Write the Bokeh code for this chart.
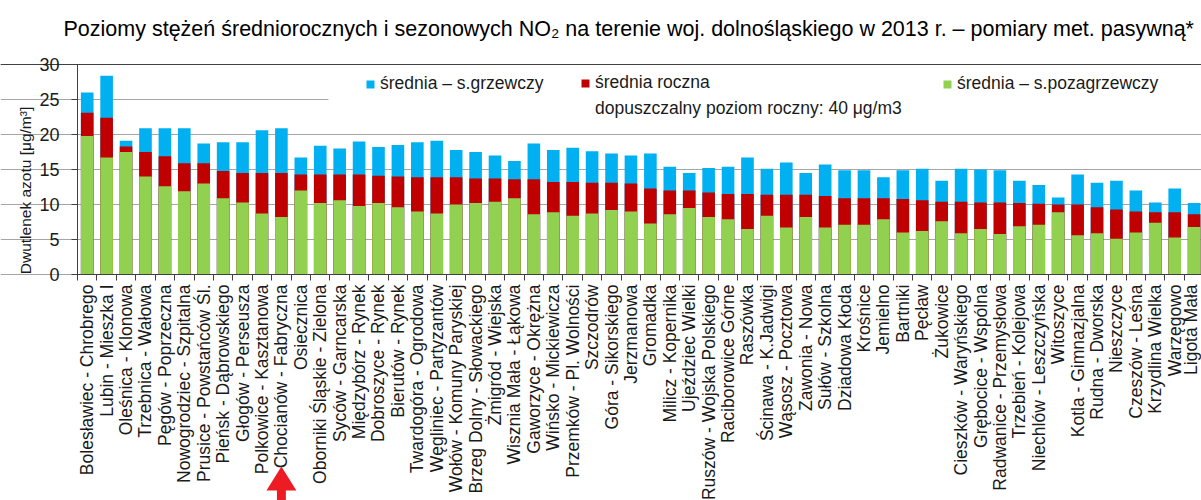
import math
from bokeh.plotting import figure
from bokeh.models import (Range1d, FixedTicker, Legend, LegendItem, Grid, Label,
                          BoxAnnotation, PolyAnnotation, ColumnDataSource)
from bokeh.embed import file_html
from bokeh.resources import INLINE

# ---------------- data ----------------
stations = [
    "Bolesławiec - Chrobrego", "Lubin - Mieszka I", "Oleśnica - Klonowa", "Trzebnica - Wałowa",
    "Pęgów - Poprzeczna", "Nowogrodziec - Szpitalna", "Prusice - Powstańców Śl.", "Pieńsk - Dąbrowskiego",
    "Głogów - Perseusza", "Polkowice - Kasztanowa", "Chocianów - Fabryczna", "Osiecznica",
    "Oborniki Śląskie - Zielona", "Syców - Garncarska", "Międzybórz - Rynek", "Dobroszyce - Rynek",
    "Bierutów - Rynek", "Twardogóra - Ogrodowa", "Węgliniec - Partyzantów", "Wołów - Komuny Paryskiej",
    "Brzeg Dolny - Słowackiego", "Żmigród - Wiejska", "Wisznia Mała - Łąkowa", "Gaworzyce - Okrężna",
    "Wińsko - Mickiewicza", "Przemków - Pl. Wolności", "Szczodrów", "Góra - Sikorskiego",
    "Jerzmanowa", "Gromadka", "Milicz - Kopernika", "Ujeździec Wielki",
    "Ruszów - Wojska Polskiego", "Raciborowice Górne", "Raszówka", "Ścinawa - K.Jadwigi",
    "Wąsosz - Pocztowa", "Zawonia - Nowa", "Sułów - Szkolna", "Dziadowa Kłoda",
    "Krośnice", "Jemielno", "Bartniki", "Pęcław",
    "Żukowice", "Cieszków - Waryńskiego", "Grębocice - Wspólna", "Radwanice - Przemysłowa",
    "Trzebień - Kolejowa", "Niechlów - Leszczyńska", "Witoszyce", "Kotla - Gimnazjalna",
    "Rudna - Dworska", "Nieszczyce", "Czeszów - Leśna", "Krzydlina Wielka",
    "Warzęgowo", "Ligota Mała",
]
heating = [
    26.0, 28.4, 19.1, 20.9, 20.9, 20.9, 18.7, 18.9, 18.9, 20.6, 20.9, 16.7,
    18.4, 18.0, 19.0, 18.2, 18.5, 18.9, 19.1, 17.8, 17.5, 17.0, 16.2, 18.7,
    17.8, 18.1, 17.6, 17.3, 17.0, 17.3, 15.4, 14.5, 15.2, 15.4, 16.7, 15.1,
    16.0, 14.5, 15.7, 14.9, 14.9, 13.9, 14.9, 15.1, 13.4, 15.1, 15.0, 14.9,
    13.4, 12.8, 11.0, 14.3, 13.1, 13.4, 12.0, 10.3, 12.3, 10.2,
]
annual = [
    23.1, 22.4, 18.3, 17.5, 16.9, 15.9, 15.9, 14.8, 14.5, 14.5, 14.5, 14.3,
    14.3, 14.3, 14.3, 14.1, 14.0, 13.9, 13.9, 13.9, 13.7, 13.7, 13.6, 13.6,
    13.2, 13.2, 13.1, 13.1, 13.0, 12.3, 12.0, 12.0, 11.7, 11.5, 11.5, 11.4,
    11.4, 11.4, 11.2, 10.9, 10.9, 10.9, 10.8, 10.6, 10.4, 10.4, 10.3, 10.3,
    10.2, 10.1, 10.0, 10.0, 9.6, 9.3, 9.0, 8.9, 8.9, 8.6,
]
non_heating = [
    19.8, 16.7, 17.5, 14.0, 12.6, 11.9, 13.0, 10.9, 10.3, 8.7, 8.2, 12.0,
    10.2, 10.6, 9.8, 10.2, 9.6, 9.0, 8.7, 10.0, 10.2, 10.4, 10.9, 8.6,
    8.9, 8.4, 8.7, 9.2, 9.0, 7.3, 8.6, 9.5, 8.2, 7.9, 6.5, 8.4,
    6.7, 8.2, 6.7, 7.1, 7.1, 7.9, 6.0, 6.2, 7.6, 5.9, 6.5, 5.8,
    6.9, 7.1, 8.9, 5.6, 5.9, 5.1, 6.0, 7.4, 5.3, 6.8,
]
limit_annual = 40
highlighted = "Chocianów - Fabryczna"
y_ticks = [0, 5, 10, 15, 20, 25, 30]

title_text = ("Poziomy stężeń średniorocznych i sezonowych NO₂ na terenie woj. dolnośląskiego "
              "w 2013 r. – pomiary met. pasywną*")
y_label = "Dwutlenek azotu [μg/m³]"
lab_heating = "średnia – s.grzewczy"
lab_annual = "średnia roczna"
lab_limit = f"dopuszczalny poziom roczny: {limit_annual} μg/m3"
lab_non = "średnia – s.pozagrzewczy"

# ---------------- styling ----------------
FONT = "Liberation Sans"
C_BLUE = "#00B0F0"
C_RED = "#C00000"
C_GREEN = "#92D050"
C_AXIS = "#404040"
C_GRID = "#A6A6A6"
C_TEXT = "#1a1a1a"
C_ARROW = "#ED1C24"

n = len(stations)
y_max = y_ticks[-1]
# The frame covers the whole canvas below the title, so that the axes (fixed at x=0.5 / y=0),
# their labels and the arrow all lie inside it.
x_start, x_end = -3.465, n + 0.38
y_bottom, y_top = -32.29, y_max + 1.43
x_first = 0.5          # left edge of the category area (where the y axis sits)

positions = list(range(1, n + 1))
src = ColumnDataSource(dict(x=positions, heating=heating, annual=annual,
                            non_heating=non_heating, name=stations))

p = figure(width=1201, height=500, output_backend="svg", toolbar_location=None,
           x_range=Range1d(x_start, x_end), y_range=Range1d(y_bottom, y_top),
           min_border_left=0, min_border_right=0, min_border_top=54, min_border_bottom=0)

bw = 0.65
r_heat = p.vbar(x="x", top="heating", width=bw, source=src, fill_color=C_BLUE, line_color=None)
r_ann = p.vbar(x="x", top="annual", width=bw, source=src, fill_color=C_RED, line_color=None)
r_non = p.vbar(x="x", top="non_heating", width=bw, source=src, fill_color=C_GREEN, line_color=None)
r_lim = p.line(x=positions, y=[limit_annual] * n, line_color="white", line_alpha=0)

# x axis drawn at y = 0: labels at category centres, tick marks at category boundaries
p.xaxis.fixed_location = 0
p.xaxis.bounds = (x_first, n + 0.5)
p.xaxis.ticker = FixedTicker(ticks=positions, minor_ticks=[x - 0.5 for x in positions] + [n + 0.5])
p.xaxis.major_label_overrides = {x: s for x, s in zip(positions, stations)}
p.xaxis.major_label_orientation = math.pi / 2
p.xaxis.major_tick_line_color = None
p.xaxis.major_tick_out = 0
p.xaxis.major_tick_in = 0
p.xaxis.minor_tick_line_color = C_AXIS
p.xaxis.minor_tick_out = 6
p.xaxis.minor_tick_in = 0
p.xaxis.major_label_standoff = 4
p.xaxis.axis_line_color = C_AXIS
p.xaxis.major_label_text_font = FONT
p.xaxis.major_label_text_font_size = "17.5px"
p.xaxis.major_label_text_color = C_TEXT

# y axis drawn at x = 0.5, limited to 0..30
p.yaxis.fixed_location = x_first
p.yaxis.ticker = FixedTicker(ticks=y_ticks)
p.yaxis.bounds = (0, y_max)
p.yaxis.major_tick_out = 6
p.yaxis.major_tick_in = 0
p.yaxis.minor_tick_line_color = None
p.yaxis.major_label_standoff = 12
p.yaxis.axis_line_color = C_AXIS
p.yaxis.major_tick_line_color = C_AXIS
p.yaxis.major_label_text_font = FONT
p.yaxis.major_label_text_font_size = "18px"
p.yaxis.major_label_text_color = C_TEXT

p.xgrid.visible = False
p.ygrid.grid_line_color = C_GRID
p.ygrid.bounds = (x_first, x_end)
p.outline_line_color = None

# y axis title, placed left of the tick labels
p.add_layout(Label(x=-2.18, y=12, text=y_label, angle=math.pi / 2, text_align="center",
                   text_baseline="middle", text_font=FONT, text_font_size="15.5px",
                   text_color=C_TEXT))

# legend background box (covers the upper gridline behind the legend)
p.add_layout(BoxAnnotation(left=13.42, bottom=21, top=y_max - 0.15, fill_color="white",
                           fill_alpha=1, line_color=None))
# darker top border line at 30
p.add_layout(Grid(dimension=1, ticker=FixedTicker(ticks=[y_max]), bounds=(x_first, x_end),
                  grid_line_color=C_AXIS))

leg_style = dict(label_text_font=FONT, label_text_font_size="17.5px", label_text_color=C_TEXT,
                 glyph_width=10, glyph_height=10, label_standoff=5, padding=0, margin=0,
                 spacing=5, border_line_alpha=0, background_fill_alpha=0, label_height=20)
p.add_layout(Legend(items=[LegendItem(label=lab_heating, renderers=[r_heat])],
                    location=(365, 406), **leg_style), "center")
p.add_layout(Legend(items=[LegendItem(label=lab_annual, renderers=[r_ann]),
                           LegendItem(label=lab_limit, renderers=[r_lim])],
                    location=(580, 381), **leg_style), "center")
p.add_layout(Legend(items=[LegendItem(label=lab_non, renderers=[r_non])],
                    location=(942, 406), **leg_style), "center")

# red arrow pointing up at the highlighted station (shape in category / data units)
hx = positions[stations.index(highlighted)]
head_half, shaft_half = 0.77, 0.23
y_tip, y_head_base, y_tail = -27.43, -30.86, -33.0
p.add_layout(PolyAnnotation(
    xs=[hx, hx + head_half, hx + shaft_half, hx + shaft_half, hx - shaft_half, hx - shaft_half, hx - head_half],
    ys=[y_tip, y_head_base, y_head_base, y_tail, y_tail, y_head_base, y_head_base],
    fill_color=C_ARROW, fill_alpha=1, line_color=None))

# title
p.title.text = title_text
p.title.text_font = FONT
p.title.text_font_size = "21.5px"
p.title.text_font_style = "normal"
p.title.text_color = "black"
p.title.align = "left"
p.title.offset = 63
p.title.standoff = 28

open("out.html", "w").write(file_html(p, INLINE))
